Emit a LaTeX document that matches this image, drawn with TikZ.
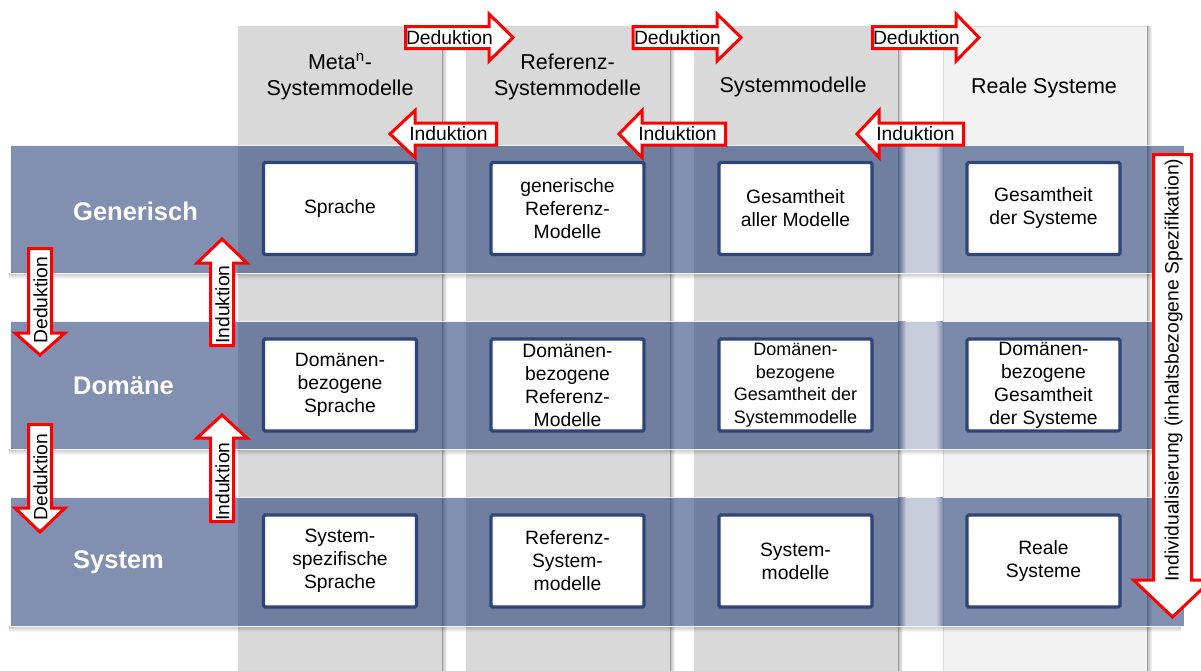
\documentclass[tikz,border=0pt]{standalone}
\usepackage{fontspec}
\setmainfont{Liberation Sans}
\usetikzlibrary{fadings}

\definecolor{colgray}{HTML}{D9D9D9}
\definecolor{collight}{HTML}{F2F2F2}
\definecolor{bandblue}{HTML}{1A3571}
\definecolor{navy}{HTML}{2F4577}
\definecolor{gaplight}{HTML}{C6CCDA}
\definecolor{gapdark}{HTML}{56668C}
\definecolor{bandcolfour}{HTML}{7B8AAB}

\tikzset{
  column/.style={fill=colgray, draw=black!15, line width=0.6pt},
  band/.style={fill=bandblue, fill opacity=0.55, draw=white, draw opacity=0.9, line width=1pt},
  cell/.style={draw=navy, fill=white, line width=3.2pt, rounded corners=1.5pt,
    minimum width=153pt, minimum height=92pt, inner sep=1pt, align=center,
    font=\fontsize{19.3}{23}\selectfont},
  header/.style={align=center, inner sep=0pt, font=\fontsize{21.5}{26.5}\selectfont},
  rowlabel/.style={anchor=west, inner sep=0pt, text=white, font=\fontsize{25.5}{30}\selectfont\bfseries},
  blockarrow/.style={draw=red, line width=3pt, fill=white, line join=miter},
  arrowtext/.style={inner sep=0pt, font=\fontsize{19.3}{23}\selectfont},
}

% horizontal block arrows: tail x, head base x, tip x, centre y
\newcommand\blkarrowR[4]{\draw[blockarrow] (#1,#4-11) -- (#2,#4-11) -- (#2,#4-23.5) -- (#3,#4)
  -- (#2,#4+23.5) -- (#2,#4+11) -- (#1,#4+11) -- cycle;}
% tip x, head base x, tail x, centre y
\newcommand\blkarrowL[4]{\draw[blockarrow] (#3,#4-11) -- (#2,#4-11) -- (#2,#4-23.5) -- (#1,#4)
  -- (#2,#4+23.5) -- (#2,#4+11) -- (#3,#4+11) -- cycle;}
% vertical block arrows: centre x, tail y, head base y, tip y, half body, half head
\newcommand\blkarrowV[6]{\draw[blockarrow] (#1-#5,#2) -- (#1-#5,#3) -- (#1-#6,#3) -- (#1,#4)
  -- (#1+#6,#3) -- (#1+#5,#3) -- (#1+#5,#2) -- cycle;}

\begin{document}
\begin{tikzpicture}[x=1pt, y=-1pt]
\useasboundingbox (0,0) rectangle (1201,670);
\clip (0,0) rectangle (1201,670);
\fill[white] (0,0) rectangle (1201,670);

% columns
\draw[column] (238,26) rectangle (442,680);
\draw[column] (466,26) rectangle (670,680);
\draw[column] (694,26) rectangle (898,680);
\draw[column, fill=collight] (943,26) rectangle (1147,680);
\foreach \cx in {442,670,898,1147}
  \fill[black, opacity=0.28, path fading=east] (\cx,26) rectangle (\cx+5,680);

% level bands
\foreach \ya/\yb in {145/273, 321/449, 497/626}{
  \fill[black, opacity=0.22, path fading=south] (10,\yb) rectangle (1184,\yb+6);
  \draw[band] (10,\ya) rectangle (1184,\yb);
  % light strip between the model columns and the real systems
  \fill[gaplight] (906,\ya+0.5) rectangle (936,\yb-0.5);
  \shade[left color=gapdark, right color=gaplight] (898,\ya+0.5) rectangle (906,\yb-0.5);
  \shade[left color=gaplight, right color=bandcolfour] (936,\ya+0.5) rectangle (943,\yb-0.5);
}

% cells
\node[cell] (g1) at (340,208.5) {Sprache};
\node[cell] (g2) at (567.5,208.5) {generische\\Referenz-\\Modelle};
\node[cell] (g3) at (795.5,208.5) {Gesamtheit\\aller Modelle};
\node[cell] (g4) at (1043.5,208.5) {Gesamtheit\\der Systeme};

\node[cell] (d1) at (340,385) {Domänen-\\bezogene\\Sprache};
\node[cell] (d2) at (567.5,385) {Domänen-\\bezogene\\Referenz-\\Modelle};
\node[cell, font=\fontsize{18}{22.5}\selectfont] (d3) at (795.5,385) {Domänen-\\bezogene\\Gesamtheit der\\Systemmodelle};
\node[cell] (d4) at (1043.5,385) {Domänen-\\bezogene\\Gesamtheit\\der Systeme};

\node[cell] (s1) at (340,561) {System-\\spezifische\\Sprache};
\node[cell] (s2) at (567.5,561) {Referenz-\\System-\\modelle};
\node[cell] (s3) at (795.5,561) {System-\\modelle};
\node[cell] (s4) at (1043.5,561) {Reale\\Systeme};

% level labels
\node[rowlabel] (lg) at (73,211) {Generisch};
\node[rowlabel] (ld) at (73,386) {Domäne};
\node[rowlabel] (ls) at (73,562) {System};

% column headers
\node[header] (h1) at (340,77) {Meta\textsuperscript{n}-\\Systemmodelle};
\node[header] (h2) at (567.5,77) {Referenz-\\Systemmodelle};
\node[header] (h3) at (793,87) {Systemmodelle};
\node[header] (h4) at (1044,88) {Reale Systeme};

% deduction arrows between the columns
\blkarrowR{405.5}{489}{513}{37.5}
\blkarrowR{633}{717}{741}{37.5}
\blkarrowR{872.5}{956}{979}{37.5}
\node[arrowtext] (dx1) at (449.5,37.5) {Deduktion};
\node[arrowtext] (dx2) at (677.5,37.5) {Deduktion};
\node[arrowtext] (dx3) at (916.5,37.5) {Deduktion};

% induction arrows between the columns
\blkarrowL{390}{415}{496.5}{134}
\blkarrowL{619}{642}{725.5}{134}
\blkarrowL{857}{879}{963.5}{134}
\node[arrowtext] (ix1) at (448.5,134) {Induktion};
\node[arrowtext] (ix2) at (677.5,134) {Induktion};
\node[arrowtext] (ix3) at (915.5,134) {Induktion};

% deduction and induction between the levels
\blkarrowV{40}{248.5}{333}{355}{11.5}{25}
\blkarrowV{40}{424.5}{508}{532}{11.5}{25}
\node[arrowtext, rotate=90] (dy1) at (40.5,300) {Deduktion};
\node[arrowtext, rotate=90] (dy2) at (40.5,477) {Deduktion};

\blkarrowV{222}{345.5}{263}{239}{11.5}{25}
\blkarrowV{222}{521.5}{438}{415}{11.5}{25}
\node[arrowtext, rotate=90] (iy1) at (222.5,304.5) {Induktion};
\node[arrowtext, rotate=90] (iy2) at (222.5,481.5) {Induktion};

% individualisation
\blkarrowV{1172.5}{154.5}{580}{617}{19}{39}
\node[arrowtext, rotate=90] (ind) at (1173.5,370) {Individualisierung (inhaltsbezogene Spezifikation)};
\end{tikzpicture}
\end{document}
